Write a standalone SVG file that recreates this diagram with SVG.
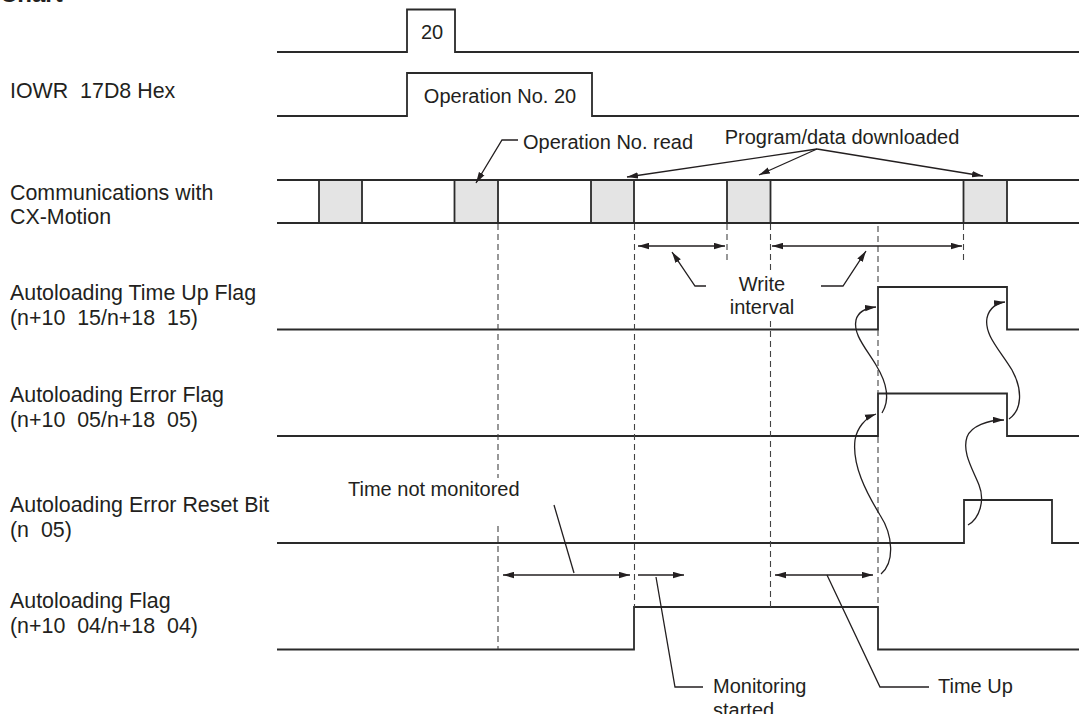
<svg xmlns="http://www.w3.org/2000/svg" width="1079" height="714" viewBox="0 0 1079 714">
<style>
text{font-family:"Liberation Sans",Arial,sans-serif;fill:#231f20;white-space:pre}
.lbl{font-size:21.4px}
.ann{font-size:20px}
.sig{fill:none;stroke:#2a2a2a;stroke-width:1.8}
.box{fill:#e4e4e4;stroke:#2a2a2a;stroke-width:1.8}
.dash{fill:none;stroke:#444;stroke-width:1.1;stroke-dasharray:6,4}
.con{fill:none;stroke:#231f20;stroke-width:1.3}
</style>
<defs>
<marker id="ah" viewBox="0 0 11 7" refX="11" refY="3.5" markerWidth="11" markerHeight="7" markerUnits="userSpaceOnUse" orient="auto-start-reverse">
<path d="M0,0.3 L11,3.5 L0,6.7 z" fill="#231f20"/>
</marker>
</defs>
<rect width="1079" height="714" fill="#fff"/>
<text x="0" y="2" style="font-size:24px;font-weight:bold">Chart</text>

<g id="row-operation-number">
<path class="sig" d="M277,52 H407 V9.5 H455 V52 H1079"/>
<text class="ann" x="432" y="39" text-anchor="middle">20</text>
</g>

<g id="row-iowr">
<text class="lbl" x="10" y="98">IOWR  17D8 Hex</text>
<path class="sig" d="M277,116 H407 V73 H592 V116 H1079"/>
<text class="ann" x="500" y="103" text-anchor="middle">Operation No. 20</text>
</g>

<g id="row-communications">
<text class="lbl" x="10" y="200">Communications with</text>
<text class="lbl" x="10" y="224">CX-Motion</text>
<rect class="box" x="319" y="180" width="43" height="43"/>
<rect class="box" x="454.5" y="180" width="43.5" height="43"/>
<rect class="box" x="591" y="180" width="43" height="43"/>
<rect class="box" x="727" y="180" width="43.5" height="43"/>
<rect class="box" x="963.5" y="180" width="43.5" height="43"/>
<path class="sig" d="M277,180 H1079 M277,223 H1079"/>
</g>

<g id="row-time-up-flag">
<text class="lbl" x="10" y="300">Autoloading Time Up Flag</text>
<text class="lbl" x="10" y="325">(n+10  15/n+18  15)</text>
<path class="sig" d="M277,329.5 H878 V287 H1007 V329.5 H1079"/>
</g>

<g id="row-error-flag">
<text class="lbl" x="10" y="402">Autoloading Error Flag</text>
<text class="lbl" x="10" y="427">(n+10  05/n+18  05)</text>
<path class="sig" d="M277,436 H878 V393.5 H1007 V436 H1079"/>
</g>

<g id="row-error-reset-bit">
<text class="lbl" x="10" y="512">Autoloading Error Reset Bit</text>
<text class="lbl" x="10" y="537">(n  05)</text>
<path class="sig" d="M277,543 H964 V500 H1052 V543 H1079"/>
</g>

<g id="row-autoloading-flag">
<text class="lbl" x="10" y="608">Autoloading Flag</text>
<text class="lbl" x="10" y="633">(n+10  04/n+18  04)</text>
<path class="sig" d="M277,649.5 H634 V607 H878 V649.5 H1079"/>
</g>

<g id="guides">
<path class="dash" d="M498,224 V478 M498,526 V649"/>
<path class="dash" d="M634.5,224 V607"/>
<path class="dash" d="M727,224 V260"/>
<path class="dash" d="M770.5,224 V270 M770.5,321 V607"/>
<path class="dash" d="M878,226 V287 M878,330 V393 M878,437 V607"/>
<path class="dash" d="M963.5,224 V260"/>
</g>

<g id="annotations">
<text class="ann" x="523" y="149">Operation No. read</text>
<text class="ann" x="842" y="144" text-anchor="middle">Program/data downloaded</text>
<text class="ann" x="762" y="291" text-anchor="middle">Write</text>
<text class="ann" x="762" y="314" text-anchor="middle">interval</text>
<text class="ann" x="348" y="496">Time not monitored</text>
<text class="ann" x="713" y="693">Monitoring</text>
<text class="ann" x="713" y="717">started</text>
<text class="ann" x="938" y="693">Time Up</text>
</g>

<g id="connectors">
<polyline class="con" points="518,140 502,140 476,183" marker-end="url(#ah)"/>
<line class="con" x1="817" y1="149" x2="627" y2="177" marker-end="url(#ah)"/>
<line class="con" x1="817" y1="149" x2="759" y2="175" marker-end="url(#ah)"/>
<line class="con" x1="817" y1="149" x2="983" y2="176" marker-end="url(#ah)"/>
<line class="con" x1="638" y1="246" x2="725" y2="246" marker-start="url(#ah)" marker-end="url(#ah)"/>
<line class="con" x1="772" y1="246" x2="962" y2="246" marker-start="url(#ah)" marker-end="url(#ah)"/>
<polyline class="con" points="706,286 695,286 672,252" marker-end="url(#ah)"/>
<polyline class="con" points="821,286 843,286 866,251" marker-end="url(#ah)"/>
<line class="con" x1="503" y1="575" x2="630" y2="575" marker-start="url(#ah)" marker-end="url(#ah)"/>
<line class="con" x1="554" y1="505" x2="574" y2="573"/>
<line class="con" x1="638" y1="575" x2="684" y2="575" marker-end="url(#ah)"/>
<polyline class="con" points="656,577 675,687 703,687"/>
<line class="con" x1="775" y1="575" x2="873" y2="575" marker-start="url(#ah)" marker-end="url(#ah)"/>
<polyline class="con" points="827,575 880,687 929,687"/>
<path class="con" d="M881,574 C895,562 893,535 880,515 C866,492 852,465 855,440 C857,428 865,418 876,414" marker-end="url(#ah)"/>
<path class="con" d="M882,413 C890,400 887,383 876,365 C865,347 853,334 856,320 C858,312 866,308 876,307" marker-end="url(#ah)"/>
<path class="con" d="M968,525 C980,518 985,500 979,485 C972,468 962,452 967,437 C971,426 988,420 1004,420" marker-end="url(#ah)"/>
<path class="con" d="M1009,419 C1022,410 1023,390 1012,370 C1000,350 984,335 987,318 C989,308 997,303 1005,302" marker-end="url(#ah)"/>
</g>
</svg>
